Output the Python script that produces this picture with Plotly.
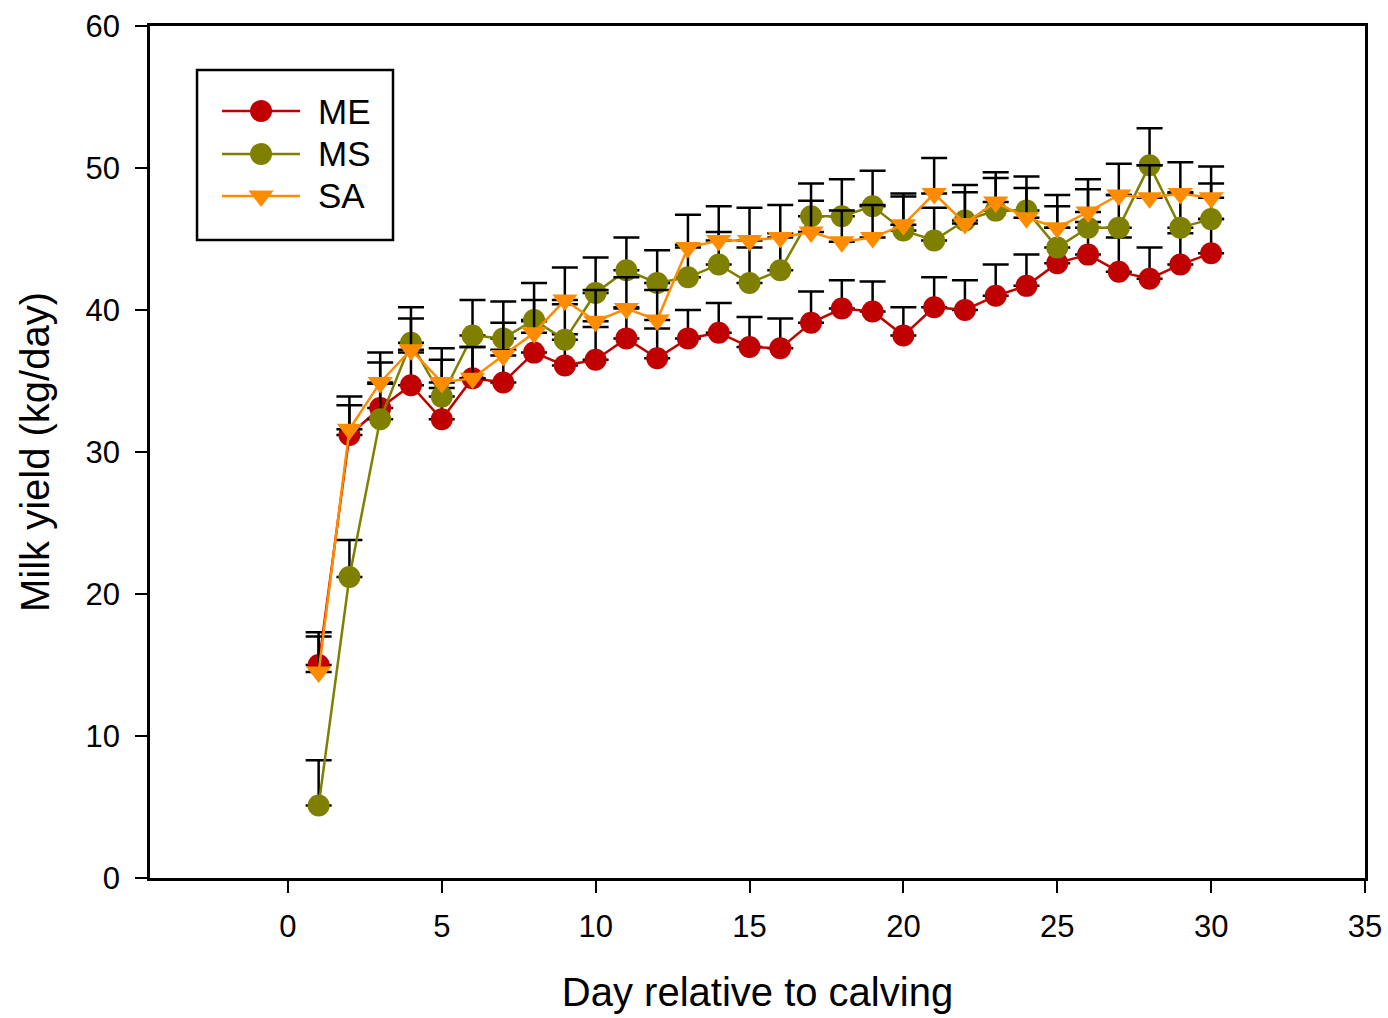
import plotly.graph_objects as go

days = list(range(1, 31))

me_mean = [15.0, 31.2, 33.1, 34.7, 32.3, 35.2, 34.9, 37.0, 36.1, 36.5,
           38.0, 36.6, 38.0, 38.4, 37.4, 37.3, 39.1, 40.1, 39.9, 38.2,
           40.2, 40.0, 41.0, 41.7, 43.3, 43.9, 42.7, 42.2, 43.2, 44.0]
me_se = [2.3, 2.1, 3.2, 2.3, 2.2, 2.2, 2.3, 2.2, 2.2, 2.3,
         2.2, 2.1, 2.0, 2.1, 2.1, 2.1, 2.2, 2.0, 2.1, 2.0,
         2.1, 2.1, 2.2, 2.2, 2.5, 2.3, 2.4, 2.2, 2.2, 2.4]

ms_mean = [5.1, 21.2, 32.3, 37.7, 33.9, 38.2, 38.0, 39.3, 37.9, 41.2,
           42.8, 41.9, 42.3, 43.2, 41.9, 42.8, 46.6, 46.6, 47.3, 45.6,
           44.9, 46.3, 47.0, 47.0, 44.4, 45.8, 45.8, 50.2, 45.8, 46.4]
ms_se = [3.2, 2.6, 2.5, 2.5, 2.6, 2.5, 2.6, 2.6, 2.5, 2.5,
         2.3, 2.3, 2.3, 2.3, 2.5, 2.6, 2.3, 2.6, 2.5, 2.4,
         2.3, 2.5, 2.3, 2.4, 2.9, 2.7, 2.3, 2.6, 2.5, 2.5]

sa_mean = [14.5, 31.6, 34.9, 37.2, 34.9, 35.2, 36.8, 38.4, 40.7, 39.2,
           40.1, 39.3, 44.4, 44.9, 44.9, 45.1, 45.5, 44.8, 45.1, 46.0,
           48.2, 46.1, 47.6, 46.5, 45.8, 46.9, 48.1, 47.9, 48.2, 47.9]
sa_se = [2.5, 2.3, 2.1, 2.2, 2.4, 2.2, 2.3, 2.3, 2.3, 2.2,
         2.2, 2.1, 2.3, 2.4, 2.3, 2.3, 2.2, 2.2, 2.3, 2.2,
         2.5, 2.2, 2.1, 2.1, 2.3, 2.3, 2.2, 2.3, 2.2, 2.2]

series = [
    ("ME", me_mean, me_se, "#C00000", "circle"),
    ("MS", ms_mean, ms_se, "#808000", "circle"),
    ("SA", sa_mean, sa_se, "#FF8C00", "triangle-down"),
]

FONT = "Liberation Sans, Arial, sans-serif"
MARKER_SIZE = 22

fig = go.Figure()
for name, mean, se, color, symbol in series:
    fig.add_trace(go.Scatter(
        x=days, y=mean, name=name, mode="lines+markers", showlegend=False,
        line=dict(color=color, width=2.5),
        marker=dict(color=color, symbol=symbol, size=MARKER_SIZE, line=dict(width=0)),
        error_y=dict(type="data", array=se, arrayminus=[0] * len(se),
                     symmetric=False, color="black", thickness=2.5, width=13),
    ))

# Boxed key in the upper-left corner; its symbols sit on an invisible
# overlay axis pair spanning the plotting area (0..1 in both directions).
key_left, key_right, key_top, key_bottom = 0.0387, 0.2, 0.9484, 0.7488
sample_x0, sample_x1, text_x = 0.0593, 0.1235, 0.1366
row_y = [0.9002, 0.8498, 0.8005]

fig.add_shape(type="rect", xref="paper", yref="paper",
              x0=key_left, x1=key_right, y0=key_bottom, y1=key_top,
              line=dict(color="black", width=2.5), fillcolor="white", layer="below")
for (name, _, _, color, symbol), ry in zip(series, row_y):
    fig.add_shape(type="line", xref="paper", yref="paper",
                  x0=sample_x0, x1=sample_x1, y0=ry, y1=ry,
                  line=dict(color=color, width=2.5), layer="below")
    fig.add_trace(go.Scatter(
        x=[(sample_x0 + sample_x1) / 2], y=[ry], xaxis="x2", yaxis="y2",
        mode="markers", showlegend=False, hoverinfo="skip", cliponaxis=False,
        marker=dict(color=color, symbol=symbol, size=MARKER_SIZE, line=dict(width=0)),
    ))
    fig.add_annotation(xref="paper", yref="paper", x=text_x, y=ry,
                       xanchor="left", yanchor="middle", showarrow=False,
                       text=name, font=dict(size=35, family=FONT, color="black"))

fig.update_layout(
    width=1388, height=1018,
    margin=dict(l=150, r=23, t=26, b=140, autoexpand=False),
    paper_bgcolor="white", plot_bgcolor="white",
    font=dict(family=FONT, color="black"),
    showlegend=False,
    xaxis2=dict(overlaying="x", range=[0, 1], visible=False, fixedrange=True),
    yaxis2=dict(overlaying="y", range=[0, 1], visible=False, fixedrange=True),
    xaxis=dict(
        range=[-4.48, 35], tickmode="array", tickvals=[0, 5, 10, 15, 20, 25, 30, 35],
        ticks="outside", ticklen=12, tickwidth=2, tickcolor="black",
        showline=True, linecolor="black", linewidth=2.5, mirror=True,
        showgrid=False, zeroline=False, ticklabelstandoff=7,
        tickfont=dict(size=31, family=FONT),
        title=dict(text="Day relative to calving", font=dict(size=40, family=FONT), standoff=36),
    ),
    yaxis=dict(
        range=[0, 60], tickmode="array", tickvals=[0, 10, 20, 30, 40, 50, 60],
        ticks="outside", ticklen=12, tickwidth=2, tickcolor="black",
        showline=True, linecolor="black", linewidth=2.5, mirror=True,
        showgrid=False, zeroline=False, ticklabelstandoff=9,
        tickfont=dict(size=31, family=FONT),
        title=dict(text="Milk yield (kg/day)", font=dict(size=40, family=FONT), standoff=24),
    ),
)

fig.write_html("out.html")
